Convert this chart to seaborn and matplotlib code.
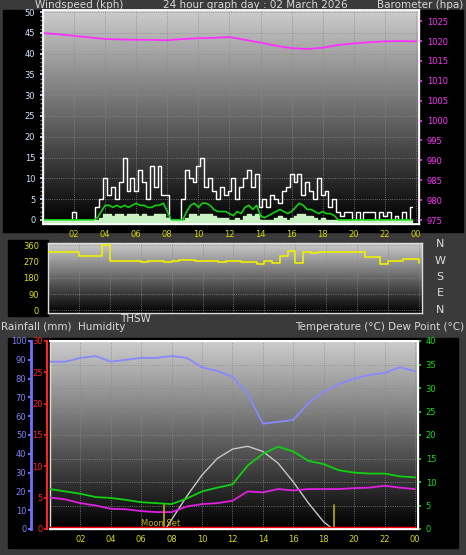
import numpy as np
import pandas as pd
import matplotlib.pyplot as plt
import seaborn as sns

sns.set_theme(style="dark")
plt.rcParams['font.family'] = ['DejaVu Sans']

# wind, 15-minute readings (kph)
wind_gust = [0, 0, 0, 0, 0, 0, 0, 0, 2, 0, 0, 0, 0, 0, 3, 5,
             10, 6, 8, 5, 9, 15, 7, 10, 7, 12, 9, 5, 13, 8, 13, 6,
             6, 0, 0, 0, 5, 12, 10, 9, 13, 15, 8, 10, 7, 5, 8, 6,
             7, 10, 5, 8, 10, 12, 8, 11, 3, 5, 3, 6, 5, 4, 7, 8,
             11, 9, 11, 6, 9, 7, 5, 10, 6, 7, 3, 5, 2, 1, 2, 2,
             0, 2, 0, 2, 2, 2, 0, 2, 1, 2, 0, 1, 0, 2, 0, 3]
wind_avg = [0, 0, 0, 0, 0, 0, 0, 0, 0, 0, 0, 0, 0, 0, 0.5, 2,
            3.5, 3.5, 3, 3.5, 3, 3.5, 3, 3.5, 4, 3.5, 3.5, 3, 3, 3.5, 3.5, 4,
            2, 0, 0, 0, 0, 2, 3.5, 4, 3, 4, 4, 3.5, 2.5, 2, 2, 2,
            1.5, 1, 2, 1.5, 3, 3.5, 2.5, 3.5, 1, 0.5, 1, 1.5, 2, 2.5, 2, 1.5,
            2, 3, 4, 3.5, 2.5, 2.5, 2, 1.5, 2, 1.5, 1.5, 1, 0, 0, 0, 0,
            0, 0, 0, 0, 0, 0, 0, 0, 0, 0, 0, 0, 0, 0, 0, 0]
wind_lull = [0, 0, 0, 0, 0, 0, 0, 0, 0, 0, 0, 0, 0, 0, 0, 0.5,
             1.5, 1.5, 1, 1.5, 1.5, 1, 1.5, 1.5, 1.5, 1, 1.5, 1, 1, 1.5, 1.5, 1.5,
             0.5, 0, 0, 0, 0, 0.5, 1.5, 1.5, 1, 1.5, 1.5, 1.5, 1, 0.5, 0.5, 0.5,
             0, 0, 0.5, 0, 1, 1.5, 1, 1.5, 0, 0, 0, 0, 0.5, 1, 0.5, 0,
             0.5, 1, 1.5, 1.5, 1, 1, 0.5, 0, 0.5, 0, 0, 0, 0, 0, 0, 0,
             0, 0, 0, 0, 0, 0, 0, 0, 0, 0, 0, 0, 0, 0, 0, 0]

# hourly readings, 00..24
pressure = [1022, 1021.7, 1021.3, 1020.9, 1020.5, 1020.4, 1020.3, 1020.3, 1020.2,
            1020.5, 1020.7, 1020.8, 1021, 1020.3, 1019.6, 1018.8, 1018.2, 1018,
            1018.3, 1019, 1019.4, 1019.7, 1019.9, 1020, 1019.9]
humidity = [89, 89, 91, 92, 89, 90, 91, 91, 92, 91, 86, 84, 81, 72, 56, 57, 58,
            67, 73, 77, 80, 82, 83, 86, 84]
temperature = [8.5, 8, 7.5, 6.8, 6.6, 6.2, 5.7, 5.5, 5.3, 6.5, 8, 8.8, 9.5, 13.5,
               16, 17.5, 16.5, 14.5, 13.8, 12.5, 12, 11.8, 11.8, 11.2, 11]
dew_point = [6.7, 6.3, 5.5, 5, 4.3, 4.2, 3.8, 3.6, 3.6, 4.8, 5.3, 5.5, 6, 8, 7.8,
             8.5, 8.2, 8.5, 8.5, 8.5, 8.7, 8.8, 9.2, 8.8, 8.5]

# wind direction, 30-minute readings (degrees)
wind_dir = [320, 320, 320, 320, 298, 298, 298, 360, 272, 270, 270, 272, 268, 270,
            270, 268, 270, 280, 280, 270, 270, 270, 268, 270, 270, 268, 268, 255,
            270, 262, 300, 330, 262, 325, 318, 320, 322, 320, 322, 325, 325, 295,
            295, 258, 270, 270, 283, 283, 260]

# solar curve (on temperature scale)
sun_hours = [7.6, 8, 9, 10, 11, 12, 13, 14, 15, 16, 17, 18, 18.6]
sun_level = [0, 2, 7, 11.5, 15, 17, 17.6, 16.5, 14, 10, 5.5, 1.5, 0]
moon_marks = [7.5, 18.7]

hour_ticks = list(range(2, 25, 2))
hour_labels = ['02', '04', '06', '08', '10', '12', '14', '16', '18', '20', '22', '00']

t15 = np.arange(len(wind_gust)) * 0.25
t60 = np.arange(len(pressure))
t30 = np.arange(len(wind_dir)) * 0.5

W, H = 466, 555
fig = plt.figure(figsize=(W / 100, H / 100), dpi=100, facecolor='#3a3a3a')


def box(x0, y0, x1, y1, color):
    fig.patches.append(plt.Rectangle((x0 / W, 1 - y1 / H), (x1 - x0) / W, (y1 - y0) / H,
                                     transform=fig.transFigure, color=color, zorder=-5))


def make_ax(x0, y0, x1, y1):
    ax = fig.add_axes([x0 / W, 1 - y1 / H, (x1 - x0) / W, (y1 - y0) / H])
    grad = np.linspace(0, 1, 256).reshape(-1, 1)
    ax.imshow(grad, cmap='gray', vmin=0, vmax=1.25, aspect='auto', origin='lower',
              extent=[0, 1, 0, 1], transform=ax.transAxes, zorder=0)
    ax.set_facecolor('black')
    ax.grid(True, color='#8a8a8a', linestyle=':', linewidth=0.6)
    for s in ax.spines.values():
        s.set_color('#dddddd')
        s.set_linewidth(1)
    ax.set_xlim(0, 24.2)
    ax.set_xticks(hour_ticks)
    ax.set_xticklabels(hour_labels)
    ax.tick_params(axis='x', colors='#d8d800', labelsize=6, length=2, pad=2)
    return ax


box(3, 10, 463, 232, 'black')
box(8, 240, 48, 316, 'black')
box(8, 338, 458, 548, 'black')

# ---- windspeed / barometer ----
ax1 = make_ax(43, 10, 419, 224)
ax1.fill_between(t15, -1, wind_lull, color='#c8f0c0', step='mid', zorder=2)
sns.lineplot(x=t15, y=wind_gust, ax=ax1, color='white', linewidth=1,
             drawstyle='steps-mid', zorder=3)
sns.lineplot(x=t15, y=wind_avg, ax=ax1, color='#10d010', linewidth=1.2, zorder=4)
ax1.set_ylim(-1, 50.5)
ax1.set_yticks(range(0, 51, 5))
ax1.set_yticks(range(0, 51, 1), minor=True)
ax1.tick_params(axis='y', which='both', colors='#cfe6ff', labelsize=6, length=2)
ax1.tick_params(axis='y', which='minor', colors='#888888', length=2)
ax1b = ax1.twinx()
sns.lineplot(x=t60, y=pressure, ax=ax1b, color='#ff30ff', linewidth=1.3)
ax1b.set_ylim(974, 1027.8)
ax1b.set_yticks(range(975, 1026, 5))
ax1b.tick_params(axis='y', colors='#ff30ff', labelsize=6, length=2)
ax1b.grid(False)
for a in (ax1, ax1b):
    a.set_xlabel('')
    a.set_ylabel('')

# ---- wind direction ----
ax2 = make_ax(48, 243, 422, 313)
sns.lineplot(x=t30, y=wind_dir, ax=ax2, color='#f0f000', linewidth=1.2,
             drawstyle='steps-post', zorder=3)
ax2.set_ylim(-15, 372)
ax2.set_yticks([0, 90, 180, 270, 360])
ax2.tick_params(axis='y', colors='#e0e000', labelsize=6, length=3)
ax2.tick_params(axis='x', labelbottom=False, length=0)
ax2.set_xlabel('')
for i, d in enumerate(['N', 'W', 'S', 'E', 'N']):
    fig.text(440 / W, 1 - (244 + i * 16.5) / H, d, color='#dddddd', fontsize=8,
             ha='center', va='center')

# ---- temperature / humidity / rain ----
ax3 = make_ax(50, 341, 418, 529)
sns.lineplot(x=sun_hours, y=sun_level, ax=ax3, color='#c8c8c8', linewidth=1, zorder=3)
sns.lineplot(x=t60, y=temperature, ax=ax3, color='#10d010', linewidth=1.3, zorder=4)
sns.lineplot(x=t60, y=dew_point, ax=ax3, color='#e020e0', linewidth=1.3, zorder=4)
for m in moon_marks:
    ax3.axvline(m, ymin=0, ymax=0.13, color='#b0a000', linewidth=1.3, zorder=5)
ax3.text(7.3, 0.6, 'Moon Set', color='#c8b000', fontsize=6, ha='center', zorder=6)

ax3h = ax3.twinx()
ax3h.yaxis.tick_left()
ax3h.spines['left'].set_position(('outward', 14))
ax3h.spines['left'].set_color('#7070ff')
ax3h.spines['left'].set_linewidth(2)
ax3h.set_ylim(0, 100)
ax3h.set_yticks(range(0, 101, 10))
ax3h.tick_params(axis='y', colors='#8080ff', labelsize=6, length=2, pad=1)
sns.lineplot(x=t60, y=humidity, ax=ax3h, color='#8888ff', linewidth=1.3, zorder=4)
ax3h.grid(False)

ax3r = ax3.twinx()
ax3r.yaxis.tick_left()
ax3r.spines['left'].set_position(('outward', 2))
ax3r.spines['left'].set_color('#ff2020')
ax3r.spines['left'].set_linewidth(1.5)
ax3r.set_ylim(0, 30)
ax3r.set_yticks(range(0, 31, 5))
ax3r.tick_params(axis='y', colors='#ff2020', labelsize=6, length=2, pad=1)
ax3r.plot([0, 24], [0.15, 0.15], color='#ff0000', linewidth=2.5)
ax3r.grid(False)

# twinx moves the host ticks to the left, so set the temperature side afterwards
ax3.set_ylim(0, 40)
ax3.yaxis.tick_right()
ax3.set_yticks(range(0, 41, 5))
ax3.tick_params(axis='y', colors='#10e010', labelsize=6, length=2)
for a in (ax3, ax3h, ax3r):
    a.set_xlabel('')
    a.set_ylabel('')

# ---- header texts ----
tc = '#d8d8d8'
fig.text(35 / W, 1 - 5 / H, 'Windspeed (kph)', color=tc, fontsize=7.5, va='center')
fig.text(255 / W, 1 - 5 / H, '24 hour graph day : 02 March 2026', color=tc,
         fontsize=7.5, va='center', ha='center')
fig.text(463 / W, 1 - 5 / H, 'Barometer (hpa)', color=tc, fontsize=7.5, va='center',
         ha='right')
fig.text(120 / W, 1 - 319 / H, 'THSW', color=tc, fontsize=7.5, va='center')
fig.text(1 / W, 1 - 327 / H, 'Rainfall (mm)  Humidity', color=tc, fontsize=7.5,
         va='center')
fig.text(464 / W, 1 - 327 / H, 'Temperature (°C) Dew Point (°C)', color=tc,
         fontsize=7.5, va='center', ha='right')

fig.savefig('out.png', dpi=100, facecolor=fig.get_facecolor())
